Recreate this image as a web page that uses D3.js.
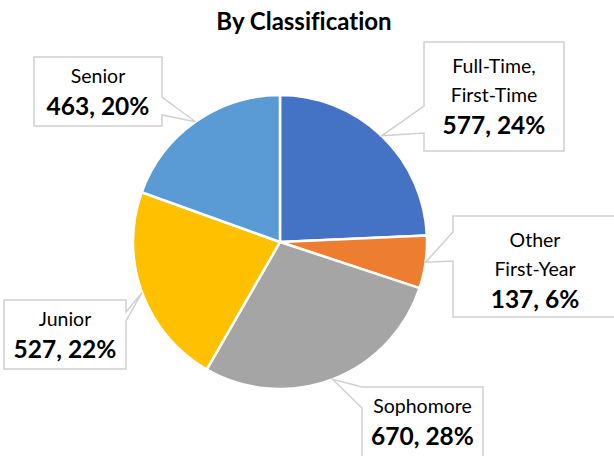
<!DOCTYPE html>
<html>
<head>
<meta charset="utf-8">
<script src="https://cdn.jsdelivr.net/npm/d3@7"></script>
<style>
	body { margin: 0; background: #fff; }
	text { font-family: Lato, 'Open Sans', sans-serif; fill: #000; font-variant-ligatures: none; }
</style>
</head>
<body>
<div id="chart"></div>
<script>
// data
var categories = [ 'Full-Time, First-Time', 'Other First-Year', 'Sophomore', 'Junior', 'Senior' ];
var labelLines = [ [ 'Full-Time,', 'First-Time' ], [ 'Other', 'First-Year' ], [ 'Sophomore' ], [ 'Junior' ], [ 'Senior' ] ];
var counts = [ 577, 137, 670, 527, 463 ];
var percents = [ '24%', '6%', '28%', '22%', '20%' ];
var colors = [ '#4472C4', '#ED7D31', '#A5A5A5', '#FFC000', '#5B9BD5' ];

var w = 614,
	h = 456;
var cx = 280,
	cy = 242,
	r = 147;

// callout boxes (x, y, width, height, side of the notch, notch start/end along that side)
var boxes = [
	{ x: 424, y: 42, w: 140, h: 109, side: 'left', n1: 64, n2: 91 },
	{ x: 453, y: 216, w: 164, h: 101, side: 'left', n1: 16, n2: 45 },
	{ x: 362, y: 387, w: 121, h: 80, side: 'left', n1: 0, n2: 21 },
	{ x: 4, y: 300, w: 122, h: 69, side: 'right', n1: 12, n2: 21 },
	{ x: 34, y: 57, w: 128, h: 69, side: 'right', n1: 40, n2: 58 }
];

var svg = d3.select('#chart').append('svg').attr('width', w).attr('height', h);

svg
	.append('text')
	.attr('x', 304)
	.attr('y', 30)
	.attr('text-anchor', 'middle')
	.style('font-size', '24px')
	.style('font-weight', 'bold')
	.text('By Classification');

var pie = d3.pie().sort(null).value(function(d) {
	return d;
});
var arcs = pie(counts);

var arc = d3.arc().innerRadius(0).outerRadius(r);
var edge = d3.arc().innerRadius(r).outerRadius(r);

var g = svg.append('g').attr('transform', 'translate(' + cx + ',' + cy + ')');

g
	.selectAll('.slice')
	.data(arcs)
	.enter()
	.append('path')
	.attr('class', 'slice')
	.attr('d', arc)
	.attr('fill', function(d, i) {
		return colors[i];
	})
	.attr('stroke', '#fff')
	.attr('stroke-width', 2.5)
	.attr('stroke-linejoin', 'round');

function calloutPath(b, tip) {
	var x0 = b.x,
		y0 = b.y,
		x1 = b.x + b.w,
		y1 = b.y + b.h;
	var p = d3.path();
	p.moveTo(x0, y0);
	p.lineTo(x1, y0);
	if (b.side == 'right') {
		p.lineTo(x1, y0 + b.n1);
		p.lineTo(tip[0], tip[1]);
		p.lineTo(x1, y0 + b.n2);
	}
	p.lineTo(x1, y1);
	p.lineTo(x0, y1);
	if (b.side == 'left') {
		p.lineTo(x0, y0 + b.n2);
		p.lineTo(tip[0], tip[1]);
		p.lineTo(x0, y0 + b.n1);
	}
	p.closePath();
	return p.toString();
}

var labels = svg.selectAll('.label').data(arcs).enter().append('g').attr('class', 'label');

labels
	.append('path')
	.attr('d', function(d, i) {
		var c = edge.centroid(d);
		return calloutPath(boxes[i], [ cx + c[0], cy + c[1] ]);
	})
	.attr('fill', '#fff')
	.attr('stroke', '#D0D0D0')
	.attr('stroke-width', 1.5);

labels.each(function(d, i) {
	var b = boxes[i];
	var lines = labelLines[i];
	var tx = b.x + b.w / 2;
	var sel = d3.select(this);
	// first baseline depends on how many lines the label has
	var y = lines.length == 2 ? b.y + 31 : b.y + 26;
	lines.forEach(function(line, k) {
		sel
			.append('text')
			.attr('x', tx)
			.attr('y', y + k * 29)
			.attr('text-anchor', 'middle')
			.style('font-size', '19.5px')
			.text(line);
	});
	sel
		.append('text')
		.attr('x', tx)
		.attr('y', y + (lines.length - 1) * 29 + 32)
		.attr('text-anchor', 'middle')
		.style('font-size', '24.5px')
		.style('font-weight', 'bold')
		.text(counts[i] + ', ' + percents[i]);
});
</script>
</body>
</html>
